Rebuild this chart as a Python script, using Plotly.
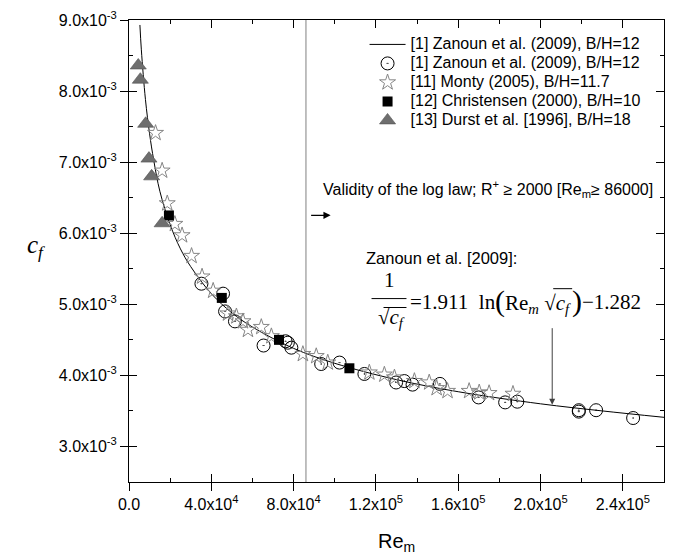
import plotly.graph_objects as go

# ---------------- data (cf values in units of 1e-3) ----------------
re_curve = [5300, 6000, 8000, 10000, 12000, 15000, 20000, 25000, 30000, 40000, 50000,
            60000, 80000, 100000, 130000, 160000, 200000, 230000, 260000]
cf_curve = [8.93, 8.58, 7.88, 7.40, 7.03, 6.59, 6.12, 5.78, 5.53, 5.15, 4.88,
            4.68, 4.38, 4.17, 3.94, 3.77, 3.60, 3.50, 3.41]

re_zanoun = [35200, 45700, 46700, 51500, 65400, 76100, 77200, 78900, 93400, 102300,
             114400, 129800, 133800, 137800, 151100, 169900, 182800, 188700,
             218600, 218600, 227000, 245000]
cf_zanoun = [5.29, 5.15, 4.90, 4.76, 4.42, 4.48, 4.46, 4.39, 4.16, 4.18,
             4.02, 3.90, 3.92, 3.87, 3.88, 3.69, 3.62, 3.63,
             3.51, 3.49, 3.51, 3.40]

re_monty = [12900, 16100, 18600, 22300, 25800, 30400, 35500, 40900, 48100, 52200,
            55400, 57800, 64300, 69200, 84500, 91000, 96600, 116800, 124100, 129000,
            138700, 145900, 149500, 154800, 165300, 170200, 175000, 186600]
cf_monty = [7.41, 6.88, 6.42, 6.13, 5.97, 5.68, 5.39, 5.19, 4.87, 4.83,
            4.76, 4.64, 4.68, 4.55, 4.30, 4.27, 4.18, 4.04, 4.01, 3.97,
            3.92, 3.90, 3.82, 3.78, 3.78, 3.76, 3.75, 3.74]

re_christensen = [19400, 45100, 72900, 107100]
cf_christensen = [6.25, 5.09, 4.50, 4.10]

re_durst = [4500, 5500, 8100, 9700, 11000, 16100]
cf_durst = [8.36, 8.16, 7.54, 7.05, 6.80, 6.14]

x_tickvals = [0, 40000, 80000, 120000, 160000, 200000, 240000]
x_ticktext = ["0.0", "4.0x10<sup>4</sup>", "8.0x10<sup>4</sup>", "1.2x10<sup>5</sup>",
              "1.6x10<sup>5</sup>", "2.0x10<sup>5</sup>", "2.4x10<sup>5</sup>"]
x_minor = [20000, 60000, 100000, 140000, 180000, 220000]
y_tickvals_e3 = [3.0, 4.0, 5.0, 6.0, 7.0, 8.0, 9.0]
y_ticktext = ["%.1fx10<sup>-3</sup>" % v for v in y_tickvals_e3]
y_minor_e3 = [3.5, 4.5, 5.5, 6.5, 7.5, 8.5]
re_loglaw = 86000

E3 = 1e-3
def sc(v):
    return [a * E3 for a in v]

# ---------------- layout geometry ----------------
W, H = 674, 557
L, R, T, B = 129, 665, 16, 482
def px(xp):
    return (xp - L) / (R - L)
def py(yp):
    return (B - yp) / (B - T)

SANS = "Liberation Sans, Arial, sans-serif"
SERIF = "Liberation Serif, Times New Roman, serif"
lg = lambda s: '<span style="font-size:16px">' + s + '</span>'

fig = go.Figure()
fig.add_trace(go.Scatter(x=re_curve, y=sc(cf_curve), mode="lines", line=dict(color="black", width=1, shape="spline"),
                         name=lg("[1] Zanoun et al. (2009), B/H=12")))
fig.add_trace(go.Scatter(x=re_zanoun, y=sc(cf_zanoun), mode="markers",
                         marker=dict(symbol="circle-open-dot", size=13, color="black", line=dict(width=1)),
                         name=lg("[1] Zanoun et al. (2009), B/H=12")))
fig.add_trace(go.Scatter(x=re_monty, y=sc(cf_monty), mode="markers",
                         marker=dict(symbol="star-open", size=12, color="#858585", line=dict(width=1)),
                         name=lg("[11] Monty (2005), B/H=11.7")))
fig.add_trace(go.Scatter(x=re_christensen, y=sc(cf_christensen), mode="markers",
                         marker=dict(symbol="square", size=10, color="black"),
                         name=lg("[12] Christensen (2000), B/H=10")))
fig.add_trace(go.Scatter(x=re_durst, y=sc(cf_durst), mode="markers",
                         marker=dict(symbol="triangle-up", size=14, color="#6e6e6e", line=dict(width=0.6, color="#505050")),
                         name=lg("[13] Durst et al. [1996], B/H=18")))
fig.add_trace(go.Scatter(x=[], y=[], xaxis="x2", yaxis="y2", showlegend=False, hoverinfo="skip"))

axcommon = dict(showgrid=False, zeroline=False, showline=True, linecolor="black", linewidth=1,
                tickcolor="black", tickwidth=1)
fig.update_layout(
    width=W, height=H, margin=dict(l=L, r=W - R, t=T, b=H - B),
    paper_bgcolor="white", plot_bgcolor="white",
    font=dict(family=SANS, color="black", size=16),
    showlegend=True,
    legend=dict(x=px(365), y=py(26), xanchor="left", yanchor="top", bgcolor="rgba(0,0,0,0)",
                borderwidth=0, font=dict(size=12, family=SANS), tracegroupgap=0, itemwidth=36),
    xaxis=dict(range=[0, 260000], tickmode="array", tickvals=x_tickvals, ticktext=x_ticktext,
               ticks="outside", ticklen=8, tickfont=dict(size=16), **axcommon),
    yaxis=dict(range=[2.5 * E3, 9.0 * E3], tickmode="array", tickvals=sc(y_tickvals_e3), ticktext=y_ticktext,
               ticks="outside", ticklen=8, tickfont=dict(size=16), **axcommon),
    xaxis2=dict(overlaying="x", matches="x", anchor="y2", side="bottom", tickmode="array", tickvals=x_tickvals,
                ticks="inside", ticklen=8, showticklabels=False, mirror="allticks",
                minor=dict(ticks="inside", ticklen=4, tickmode="array", tickvals=x_minor, tickcolor="black"),
                **axcommon),
    yaxis2=dict(overlaying="y", matches="y", anchor="x2", side="left", tickmode="array", tickvals=sc(y_tickvals_e3),
                ticks="inside", ticklen=8, showticklabels=False, mirror="allticks",
                minor=dict(ticks="inside", ticklen=4, tickmode="array", tickvals=sc(y_minor_e3), tickcolor="black"),
                **axcommon),
)

# vertical line at log-law validity limit
fig.add_shape(type="line", xref="x", yref="paper", x0=re_loglaw, x1=re_loglaw, y0=0, y1=1,
              line=dict(color="#808080", width=1))

ann = []
def text(xp, yp, s, size=16, family=SANS, xanchor="left", yanchor="middle"):
    ann.append(dict(xref="paper", yref="paper", x=px(xp), y=py(yp), text=s, showarrow=False,
                    font=dict(size=size, family=family, color="black"), xanchor=xanchor, yanchor=yanchor))

text(321, 186, "Validity of the log law; R<sup>+</sup> \u2265 2000 [Re<sub>m</sub>\u2265 86000]", size=16)
text(364, 256, "Zanoun et al. [2009]:", size=16.5)
# formula
text(390, 278, "1", size=21, family=SERIF, xanchor="center")
text(392, 317, "\u221a<i>c</i><sub><i>f</i></sub>", size=21, family=SERIF, xanchor="center")
text(409, 300, "=1.911\u00a0\u00a0ln", size=21, family=SERIF)
text(494, 299, "(", size=30, family=SERIF)
text(504, 302, "Re<sub><i>m</i></sub>\u00a0\u221a<i>c</i><sub><i>f</i></sub>", size=21, family=SERIF)
text(571, 299, ")", size=30, family=SERIF)
text(581, 300, "\u22121.282", size=21, family=SERIF)
# axis titles
text(397, 543, "Re<sub>m</sub>", size=20, xanchor="center")
text(36, 244, "<i>c</i><sub><i>f</i></sub>", size=25, family=SERIF, xanchor="center")

# arrows
ann.append(dict(xref="paper", yref="paper", x=px(331), y=py(213), ax=-21, ay=0, showarrow=True,
                arrowhead=2, arrowsize=1.2, arrowwidth=1.2, arrowcolor="black", text=""))
ann.append(dict(xref="paper", yref="paper", x=px(553), y=py(404), ax=0, ay=-78, showarrow=True,
                arrowhead=2, arrowsize=1.2, arrowwidth=1, arrowcolor="#404040", text=""))
fig.update_layout(annotations=ann)

# fraction bar and radical bars
for (x0, x1, yy) in [(372, 407, 297), (384, 407, 306), (554, 573, 287)]:
    fig.add_shape(type="line", xref="paper", yref="paper", x0=px(x0), x1=px(x1), y0=py(yy), y1=py(yy),
                  line=dict(color="black", width=1))

fig.write_html("out.html")
